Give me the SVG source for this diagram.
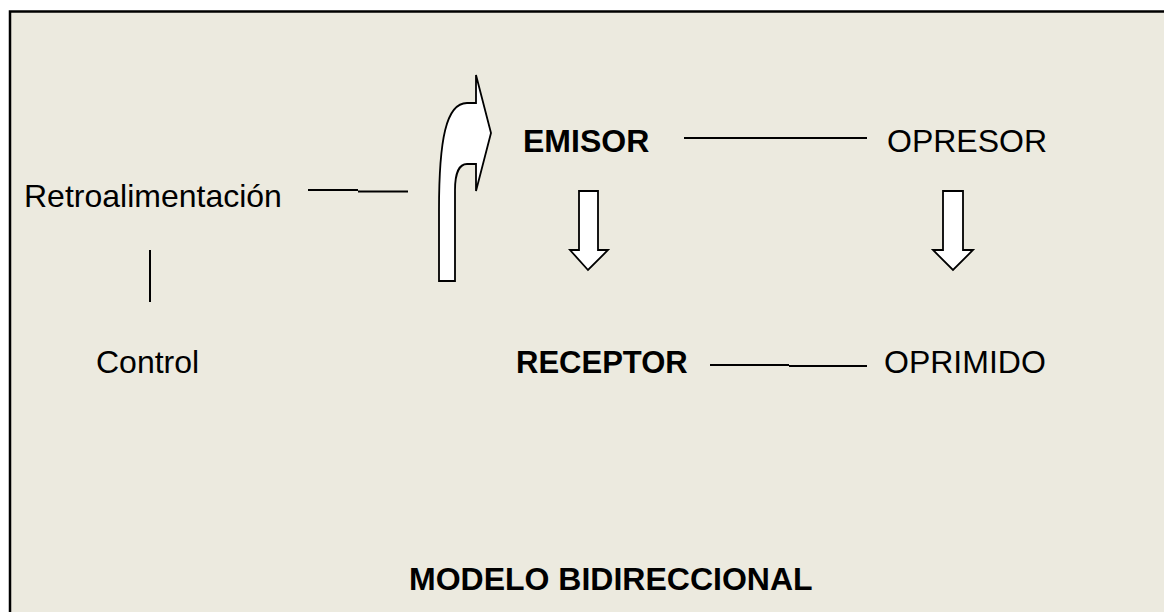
<svg xmlns="http://www.w3.org/2000/svg" width="1164" height="612" viewBox="0 0 1164 612">
<style>
.t{font-family:"Liberation Sans",Arial,sans-serif;font-size:32px;fill:#000}
.b{font-weight:bold}
.ln{stroke:#000;stroke-width:2;fill:none}
.ar{fill:#fff;stroke:#000;stroke-width:1.8;stroke-linejoin:miter}
</style>
<rect x="0" y="0" width="1164" height="612" fill="#fff"/>
<rect id="frame" x="10" y="11.5" width="1170" height="620" fill="#ECEADF" stroke="#000" stroke-width="2.5"/>
<g id="connectors">
<path class="ln" d="M308,190 H358 M358,191.5 H408"/>
<path class="ln" d="M684,138 H867"/>
<path class="ln" d="M710,365 H789 M789,366 H867"/>
<path class="ln" d="M150,250 V302"/>
<path id="bent-arrow" class="ar" d="M439,281 L439,210 C439,140 446,103 467,103 L476,103 L476,75 L491,133 L476,191 L476,164 L467,164 C460,164 455,172 455,190 L455,281 Z"/>
<path id="down-arrow-1" class="ar" d="M579,191 H598 V250 H608 L588,270 L570,250 H579 Z"/>
<path id="down-arrow-2" class="ar" d="M943,191 H963 V250 H973 L953,270 L933,250 H943 Z"/>
</g>
<g id="retroalimentacion"><text class="t" x="24" y="207">Retroalimentación</text></g>
<g id="control"><text class="t" x="96" y="373">Control</text></g>
<g id="emisor"><text class="t b" x="523" y="152">EMISOR</text></g>
<g id="opresor"><text class="t" x="887" y="152">OPRESOR</text></g>
<g id="receptor"><text class="t b" x="516" y="373" style="font-size:31px">RECEPTOR</text></g>
<g id="oprimido"><text class="t" x="884" y="373">OPRIMIDO</text></g>
<g id="titulo"><text class="t b" x="409" y="590">MODELO BIDIRECCIONAL</text></g>
</svg>
